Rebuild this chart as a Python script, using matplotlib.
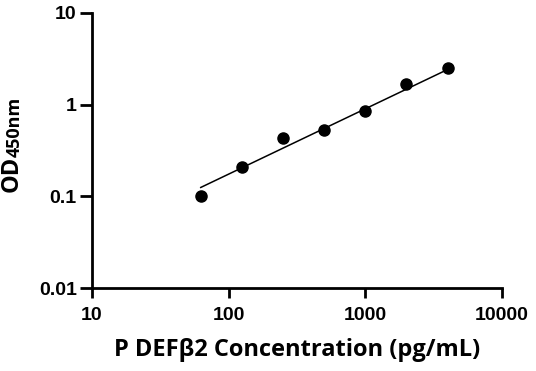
import matplotlib
matplotlib.use("Agg")
import matplotlib.pyplot as plt
from matplotlib.ticker import FixedLocator, FixedFormatter, NullLocator

# standard curve data
conc = [62.5, 125, 250, 500, 1000, 2000, 4000]
od = [0.101, 0.211, 0.43, 0.53, 0.853, 1.67, 2.49]

# fitted line end points (log-log straight line)
fit_x = [62.5, 4000]
fit_y = [0.125, 2.42]

x_ticks = [10, 100, 1000, 10000]
x_labels = ["10", "100", "1000", "10000"]
y_ticks = [0.01, 0.1, 1, 10]
y_labels = ["0.01", "0.1", "1", "10"]

plt.rcParams["font.family"] = ["Open Sans", "DejaVu Sans"]
plt.rcParams["font.weight"] = "bold"

fig = plt.figure(figsize=(5.36, 3.71), dpi=100)
ax = fig.add_axes([0.1716, 0.2237, 0.765, 0.7413])

ax.plot(fit_x, fit_y, color="black", linewidth=1.1, zorder=2)
ax.plot(conc, od, "o", color="black", markersize=8, zorder=3, clip_on=False)

ax.set_xscale("log")
ax.set_yscale("log")
ax.set_xlim(10, 10000)
ax.set_ylim(0.01, 10)

ax.xaxis.set_major_locator(FixedLocator(x_ticks))
ax.xaxis.set_major_formatter(FixedFormatter(x_labels))
ax.yaxis.set_major_locator(FixedLocator(y_ticks))
ax.yaxis.set_major_formatter(FixedFormatter(y_labels))
ax.xaxis.set_minor_locator(NullLocator())
ax.yaxis.set_minor_locator(NullLocator())

for s in ["top", "right"]:
    ax.spines[s].set_visible(False)
for s in ["left", "bottom"]:
    ax.spines[s].set_linewidth(2.0)

ax.tick_params(axis="x", which="major", direction="out", length=7, width=2.0, pad=7,
               labelsize=14, labelfontfamily="Liberation Sans")
ax.tick_params(axis="y", which="major", direction="out", length=8.5, width=2.0, pad=2.5,
               labelsize=14, labelfontfamily="Liberation Sans")

ax.set_xlabel("P DEFβ2 Concentration (pg/mL)", fontsize=17, fontweight="bold", labelpad=10)

# y label: "OD" with smaller "450nm"
fig.text(0.045, 0.4825, "OD", rotation=90, fontsize=17, fontweight="bold",
         ha="right", va="bottom")
fig.text(0.045, 0.577, "450nm", rotation=90, fontsize=13, fontweight="bold",
         ha="right", va="bottom")

fig.canvas.draw()
fig.savefig("out.png", dpi=100, facecolor="white")
